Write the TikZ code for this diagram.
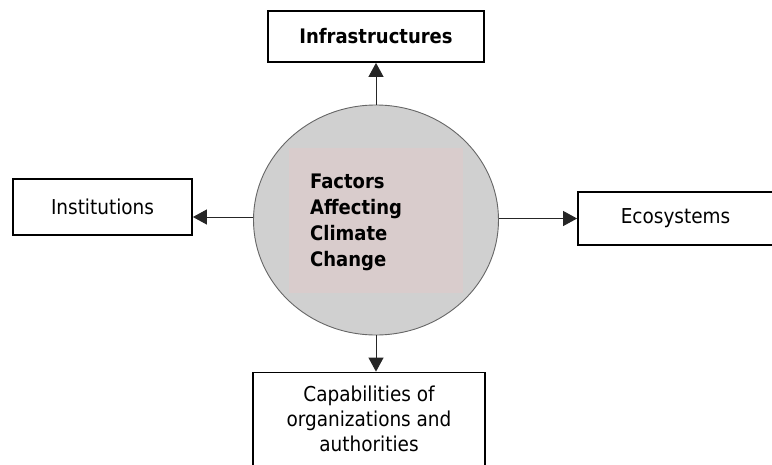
\documentclass[tikz,border=0pt]{standalone}
\usepackage{fontspec}
\setmainfont{DejaVu Sans Condensed}
\usetikzlibrary{arrows.meta,shapes.geometric}
\definecolor{circfill}{RGB}{208,208,208}
\definecolor{pinkfill}{RGB}{217,204,204}
\begin{document}
\begin{tikzpicture}[x=1pt,y=-1pt,
  box/.style={draw=black,line width=1.8pt,fill=white,align=center,inner sep=0pt,font=\fontsize{20.5}{25}\selectfont},
  conn/.style={draw=black!85,line width=1pt,-{Triangle[length=14pt,width=15pt]}}]
\useasboundingbox (0,0) rectangle (772,464);
\node[ellipse,draw=black!60,line width=0.9pt,fill=circfill,minimum width=245pt,minimum height=230pt,inner sep=0pt] (c) at (376,220) {};
\fill[pinkfill] (289,148) rectangle (463,293);
\node[anchor=north west,align=left,inner sep=0pt,font=\bfseries\fontsize{20}{26}\selectfont] (t) at (310,174) {Factors\\Affecting\\Climate\\Change};
\node[box,minimum width=216pt,minimum height=51pt,font=\bfseries\fontsize{20}{25}\selectfont] (inf) at (376,36.5) {Infrastructures};
\node[box,minimum width=179pt,minimum height=56pt] (ins) at (102.5,207) {Institutions};
\node[box,minimum width=195pt,minimum height=53pt] (eco) at (675.5,218.5) {Ecosystems};
\node[box,minimum width=232pt,minimum height=93pt] (cap) at (369,419) {Capabilities of\\organizations and\\authorities};
\coordinate (lw) at ([yshift=3pt]c.west);
\draw[conn] (c.north) -- (inf.south);
\draw[conn] (lw) -- (ins.east |- lw);
\draw[conn] (c.east |- eco.west) -- (eco.west);
\draw[conn] (c.south) -- (cap.north -| c.south);
\end{tikzpicture}
\end{document}
